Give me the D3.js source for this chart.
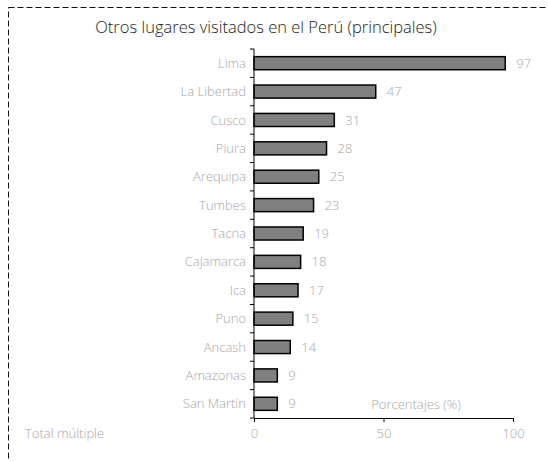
<!DOCTYPE html>
<html>
<head>
<meta charset="utf-8">
<script src="https://cdn.jsdelivr.net/npm/d3@7"></script>
<style>
  body { margin: 0; background: #fff; }
  text { font-family: "Open Sans", "Noto Sans", sans-serif; font-weight: 300; }
</style>
</head>
<body>
<div id="chart"></div>
<script>
// data
const regions = ["Lima", "La Libertad", "Cusco", "Piura", "Arequipa", "Tumbes", "Tacna",
  "Cajamarca", "Ica", "Puno", "Ancash", "Amazonas", "San Martín"];
const percents = [97, 47, 31, 28, 25, 23, 19, 18, 17, 15, 14, 9, 9];
const xTicks = [0, 50, 100];

const width = 548, height = 461;
const svg = d3.select("#chart").append("svg")
  .attr("width", width)
  .attr("height", height);

// dashed frame
svg.append("rect")
  .attr("x", 8.5).attr("y", 7.5)
  .attr("width", 560).attr("height", 480)
  .attr("fill", "none")
  .attr("stroke", "#111")
  .attr("stroke-width", 1)
  .attr("stroke-dasharray", "6,3");

svg.append("text")
  .attr("x", 266).attr("y", 33)
  .attr("text-anchor", "middle")
  .attr("font-size", 16.5)
  .attr("fill", "#222")
  .text("Otros lugares visitados en el Perú (principales)");

const x = d3.scaleLinear().domain([0, 100]).range([254, 513]);
const y = d3.scaleBand().domain(regions).range([49, 418]).paddingInner(0.54).paddingOuter(0.27);

// bars
svg.selectAll("rect.bar")
  .data(regions)
  .enter().append("rect")
  .attr("class", "bar")
  .attr("x", x(0))
  .attr("y", d => y(d))
  .attr("width", (d, i) => x(percents[i]) - x(0))
  .attr("height", y.bandwidth())
  .attr("fill", "#808080")
  .attr("stroke", "#000")
  .attr("stroke-width", 1.5);

// value labels
svg.selectAll("text.val")
  .data(regions)
  .enter().append("text")
  .attr("class", "val")
  .attr("x", (d, i) => x(percents[i]) + 11)
  .attr("y", d => y(d) + y.bandwidth() / 2)
  .attr("dy", "0.35em")
  .attr("font-size", 13)
  .attr("fill", "#a6a6a6")
  .text((d, i) => percents[i]);

// category labels
svg.selectAll("text.cat")
  .data(regions)
  .enter().append("text")
  .attr("class", "cat")
  .attr("x", 246)
  .attr("y", d => y(d) + y.bandwidth() / 2)
  .attr("dy", "0.35em")
  .attr("text-anchor", "end")
  .attr("font-size", 13)
  .attr("fill", "#a6a6a6")
  .text(d => d);

// y axis line with ticks at band boundaries
const yAxisG = svg.append("g");
yAxisG.append("line")
  .attr("x1", x(0)).attr("x2", x(0))
  .attr("y1", 49).attr("y2", 418)
  .attr("stroke", "#000");
const bounds = d3.range(regions.length + 1).map(i => 49 + i * (369 / regions.length));
yAxisG.selectAll("line.tk")
  .data(bounds)
  .enter().append("line")
  .attr("class", "tk")
  .attr("x1", x(0) - 4).attr("x2", x(0))
  .attr("y1", d => d).attr("y2", d => d)
  .attr("stroke", "#000");

// x axis
const xAxisG = svg.append("g")
  .attr("transform", "translate(0,418)")
  .call(d3.axisBottom(x).tickValues(xTicks).tickSize(4).tickSizeOuter(0));
xAxisG.select(".domain").attr("stroke", "#000");
xAxisG.selectAll(".tick line").attr("stroke", "#000");
xAxisG.selectAll(".tick text")
  .attr("font-size", 13)
  .attr("fill", "#a6a6a6")
  .attr("dy", "0.35em")
  .attr("y", 15);

svg.append("text")
  .attr("x", 416).attr("y", 404)
  .attr("text-anchor", "middle")
  .attr("dy", "0.35em")
  .attr("font-size", 13)
  .attr("fill", "#a6a6a6")
  .text("Porcentajes (%)");

svg.append("text")
  .attr("x", 25).attr("y", 433)
  .attr("dy", "0.35em")
  .attr("font-size", 13)
  .attr("fill", "#a6a6a6")
  .text("Total múltiple");
</script>
</body>
</html>
